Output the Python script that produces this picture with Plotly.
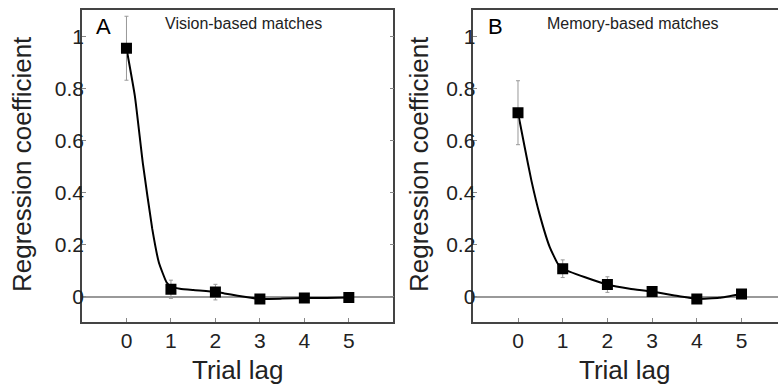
import plotly.graph_objects as go

# ---- data ----
lags = [0, 1, 2, 3, 4, 5]
vision_coef = [0.955, 0.028, 0.017, -0.009, -0.006, -0.004]
vision_err = [0.123, 0.035, 0.03, 0.01, 0.01, 0.01]
memory_coef = [0.707, 0.107, 0.046, 0.019, -0.009, 0.010]
memory_err = [0.123, 0.034, 0.03, 0.015, 0.01, 0.01]

vision_fit_x = [0, 0.19, 0.37, 0.58, 0.73, 0.9, 1.0, 1.2, 1.5, 2.0, 2.2, 2.5, 2.8, 3.0, 3.5, 4.0, 4.5, 5.0]
vision_fit_y = [0.955, 0.77, 0.51, 0.26, 0.13, 0.055, 0.038, 0.03, 0.025, 0.018, 0.012, 0.003, -0.005,
                -0.009, -0.008, -0.006, -0.006, -0.004]
memory_fit_x = [0, 0.15, 0.30, 0.48, 0.71, 0.89, 1.0, 1.5, 2.0, 2.5, 3.0, 3.5, 4.0, 4.5, 5.0]
memory_fit_y = [0.707, 0.574, 0.446, 0.318, 0.19, 0.126, 0.107, 0.074, 0.046, 0.03, 0.019, 0.004,
                -0.009, -0.005, 0.010]

xtick_vals = [0, 1, 2, 3, 4, 5]
xtick_text = ["0", "1", "2", "3", "4", "5"]
ytick_vals = [0, 0.2, 0.4, 0.6, 0.8, 1.0]
ytick_text = ["0", "0.2", "0.4", "0.6", "0.8", "1"]

panel_letters = ["A", "B"]
panel_titles = ["Vision-based matches", "Memory-based matches"]
x_title = "Trial lag"
y_title = "Regression coefficient"

FONT = "Liberation Sans, Arial, Helvetica, sans-serif"
W, H = 778, 391

fig = go.Figure()

panels = [
    (vision_fit_x, vision_fit_y, vision_coef, vision_err, "x", "y"),
    (memory_fit_x, memory_fit_y, memory_coef, memory_err, "x2", "y2"),
]
for fx, fy, c, e, xa, ya in panels:
    fig.add_trace(go.Scatter(x=fx, y=fy, mode="lines", xaxis=xa, yaxis=ya,
                             line=dict(color="black", width=2, shape="spline", smoothing=0.4),
                             showlegend=False, hoverinfo="skip"))
    fig.add_trace(go.Scatter(x=lags, y=c, mode="markers", xaxis=xa, yaxis=ya,
                             marker=dict(symbol="square", size=11, color="black"),
                             error_y=dict(type="data", array=e, visible=True, color="#999999",
                                          thickness=1, width=2),
                             showlegend=False))

# domains (pixel-based)
ax_top = 1 - 9.5 / H
ax_bot = 1 - 321.5 / H
xdomA = [82 / W, 393.3 / W]
xdomB = [473.3 / W, 1.0]

common_x = dict(tickmode="array", tickvals=xtick_vals, ticktext=xtick_text,
                ticks="inside", ticklen=4, tickcolor="#888888", tickwidth=1,
                showline=True, linecolor="#444444", linewidth=1.5, mirror=True,
                showgrid=False, zeroline=False,
                tickfont=dict(family=FONT, size=21, color="#222222"))
common_y = dict(tickmode="array", tickvals=ytick_vals, ticktext=ytick_text,
                ticks="inside", ticklen=4, tickcolor="#888888", tickwidth=1,
                showline=True, linecolor="#444444", linewidth=1.5,
                showgrid=False, zeroline=True, zerolinecolor="#999999", zerolinewidth=2,
                range=[-0.096, 1.104], ticklabelstandoff=-8,
                tickfont=dict(family=FONT, size=21, color="#222222"))

fig.update_layout(
    width=W, height=H,
    margin=dict(l=0, r=0, t=0, b=0),
    paper_bgcolor="white", plot_bgcolor="white",
    xaxis=dict(domain=xdomA, range=[-1, 6], anchor="y", **common_x),
    yaxis=dict(domain=[ax_bot, ax_top], anchor="x", mirror="ticks", **common_y),
    xaxis2=dict(domain=xdomB, range=[-1, 5.816], anchor="y2", **common_x),
    yaxis2=dict(domain=[ax_bot, ax_top], anchor="x2", mirror=False, **common_y),
)

annotations = []
for i, (xdom, letter, title) in enumerate(zip([xdomA, xdomB], panel_letters, panel_titles)):
    left_px = xdom[0] * W
    # panel letter
    annotations.append(dict(x=(left_px + 22) / W, y=1 - 27 / H, xref="paper", yref="paper",
                            text=letter, showarrow=False, xanchor="center", yanchor="middle",
                            font=dict(family=FONT, size=22, color="black")))
    # subtitle
    cx = 243.5 if i == 0 else 633
    annotations.append(dict(x=cx / W, y=1 - 24 / H, xref="paper", yref="paper",
                            text=title, showarrow=False, xanchor="center", yanchor="middle",
                            font=dict(family=FONT, size=16, color="#222222")))
    # x title
    xc = 237.5 if i == 0 else 625
    annotations.append(dict(x=xc / W, y=1 - 370 / H, xref="paper", yref="paper",
                            text=x_title, showarrow=False, xanchor="center", yanchor="middle",
                            font=dict(family=FONT, size=26, color="#222222")))
    # y title
    yc = 22 if i == 0 else 419
    annotations.append(dict(x=yc / W, y=1 - 164 / H, xref="paper", yref="paper",
                            text=y_title, showarrow=False, xanchor="center", yanchor="middle",
                            textangle=-90,
                            font=dict(family=FONT, size=26, color="#222222")))
fig.update_layout(annotations=annotations)

fig.write_html("out.html")
